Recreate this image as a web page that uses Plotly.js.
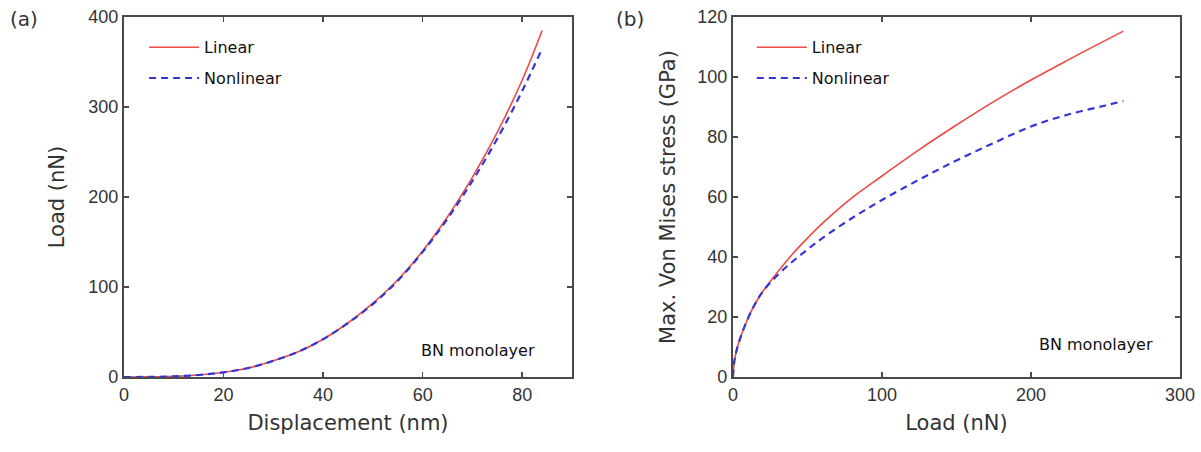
<!DOCTYPE html>
<html>
<head>
<meta charset="utf-8">
<script src="https://cdn.plot.ly/plotly-3.0.1.min.js"></script>
<style>html,body{margin:0;padding:0;background:#fff;}#chart{width:1201px;height:452px;}</style>
</head>
<body>
<div id="chart"></div>
<script>
// Panel (a): load vs displacement
const dispA = [0, 5, 10, 15, 20, 25, 30, 35, 40, 45, 50, 55, 60, 65, 70, 75, 80, 84];
const loadLinearA = [0, 0.1, 0.7, 2.2, 5.2, 10, 18, 28, 42, 60, 82, 108, 140, 178, 222, 272, 330, 385];
const loadNonlinearA = [0, 0.1, 0.7, 2.2, 5.2, 10, 18, 28, 42, 60, 81, 107, 139, 176, 218, 265, 318, 365];

// Panel (b): max. Von Mises stress vs load
const loadB = [0, 1, 3, 6, 10, 15, 20, 30, 40, 50, 60, 80, 100, 125, 150, 175, 200, 225, 250, 262];
const stressLinearB = [0, 5.5, 10, 14.5, 19.5, 24.5, 28.5, 35, 41, 46.3, 51.2, 59.8, 67, 75.8, 84, 91.8, 99, 105.7, 112.2, 115.3];
const stressNonlinearB = [0, 5.5, 10, 14.5, 19.5, 24.5, 28.5, 34, 38.5, 42.5, 46.3, 53, 59, 65.8, 72.2, 78, 83.5, 87.5, 90.5, 92];

const xTicksA = [0, 20, 40, 60, 80];
const yTicksA = [0, 100, 200, 300, 400];
const xTicksB = [0, 100, 200, 300];
const yTicksB = [0, 20, 40, 60, 80, 100, 120];

const seriesNames = ['Linear', 'Nonlinear'];
const panelLabels = ['(a)', '(b)'];
const noteText = 'BN monolayer';

const red = '#ec4a45';
const blue = '#3535d6';
const FONT = 'Arial, "Liberation Sans", sans-serif';
const WFONT = '"DejaVu Sans", Verdana, sans-serif';

const traces = [
  {x: dispA, y: loadLinearA, name: seriesNames[0], mode: 'lines', line: {color: red, width: 1.6, shape: 'spline'}, xaxis: 'x', yaxis: 'y', legend: 'legend', legendgroup: 'a1'},
  {x: dispA, y: loadNonlinearA, name: seriesNames[1], mode: 'lines', line: {color: blue, width: 2.2, dash: '7px,5px', shape: 'spline'}, xaxis: 'x', yaxis: 'y', legend: 'legend', legendgroup: 'a2'},
  {x: loadB, y: stressLinearB, name: seriesNames[0], mode: 'lines', line: {color: red, width: 1.6, shape: 'spline'}, xaxis: 'x2', yaxis: 'y2', legend: 'legend2', legendgroup: 'b1'},
  {x: loadB, y: stressNonlinearB, name: seriesNames[1], mode: 'lines', line: {color: blue, width: 2.2, dash: '7px,5px', shape: 'spline'}, xaxis: 'x2', yaxis: 'y2', legend: 'legend2', legendgroup: 'b2'}
];

const axisCommon = {
  showgrid: false, zeroline: false, showline: true, linecolor: '#4a4a4a', linewidth: 2,
  mirror: 'ticks', ticks: 'inside', ticklen: 5, tickwidth: 1.5, tickcolor: '#4a4a4a',
  tickfont: {family: FONT, size: 18, color: '#333'}, tickmode: 'array'
};
const titleFont = {family: WFONT, size: 21, color: '#333'};

const legendCommon = {
  font: {family: WFONT, size: 16, color: '#111'}, bgcolor: 'rgba(0,0,0,0)',
  xanchor: 'left', yanchor: 'top', tracegroupgap: 7, traceorder: 'grouped', itemwidth: 50
};

const layout = {
  width: 1201, height: 452,
  margin: {l: 0, r: 0, t: 17, b: 75},
  paper_bgcolor: '#fff', plot_bgcolor: '#fff',
  showlegend: true,
  xaxis: Object.assign({}, axisCommon, {domain: [0.1032, 0.4763], range: [0, 90], tickvals: xTicksA,
    title: {text: 'Displacement (nm)', font: titleFont, standoff: 12}}),
  yaxis: Object.assign({}, axisCommon, {domain: [0, 1], range: [0, 400], tickvals: yTicksA,
    title: {text: 'Load (nN)', font: titleFont, standoff: 18}}),
  xaxis2: Object.assign({}, axisCommon, {domain: [0.6103, 0.9825], range: [0, 300], tickvals: xTicksB, anchor: 'y2',
    title: {text: 'Load (nN)', font: titleFont, standoff: 12}}),
  yaxis2: Object.assign({}, axisCommon, {domain: [0, 1], range: [0, 120], tickvals: yTicksB, anchor: 'x2',
    title: {text: 'Max. Von Mises stress (GPa)', font: titleFont, standoff: 16}}),
  legend: Object.assign({}, legendCommon, {x: 0.12, y: 0.963}),
  legend2: Object.assign({}, legendCommon, {x: 0.626, y: 0.963}),
  annotations: [
    {xref: 'x', yref: 'y', x: 83, y: 30, xanchor: 'right', yanchor: 'middle', text: noteText, showarrow: false,
     font: {family: WFONT, size: 16, color: '#111'}},
    {xref: 'x2', yref: 'y2', x: 283, y: 11, xanchor: 'right', yanchor: 'middle', text: noteText, showarrow: false,
     font: {family: WFONT, size: 16, color: '#111'}},
    {xref: 'paper', yref: 'paper', x: 0.007, y: 1.0, xanchor: 'left', yanchor: 'middle', yshift: -2, text: panelLabels[0], showarrow: false,
     font: {family: WFONT, size: 20, color: '#333'}},
    {xref: 'paper', yref: 'paper', x: 0.511, y: 1.0, xanchor: 'left', yanchor: 'middle', yshift: -2, text: panelLabels[1], showarrow: false,
     font: {family: WFONT, size: 20, color: '#333'}}
  ]
};

Plotly.newPlot('chart', traces, layout, {displayModeBar: false, staticPlot: true});
</script>
</body>
</html>
